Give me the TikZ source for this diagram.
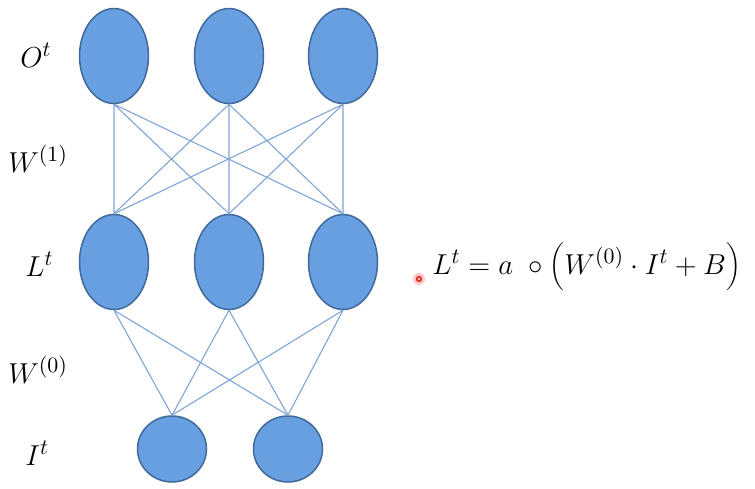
\documentclass[tikz,border=0pt]{standalone}
\usetikzlibrary{shapes.geometric}
\definecolor{NeuronFill}{HTML}{679FE0}
\definecolor{NeuronEdge}{HTML}{41699A}
\definecolor{LinkBlue}{HTML}{7FA5D6}
\definecolor{PointerRed}{HTML}{E8302A}

\begin{document}
\begin{tikzpicture}[x=0.5pt,y=-0.5pt,line cap=round,
  neuron/.style={ellipse,draw=NeuronEdge,fill=NeuronFill,line width=0.75pt,minimum width=34.5pt,minimum height=47.5pt,inner sep=0pt},
  link/.style={draw=LinkBlue,line width=0.55pt},
  tag/.style={anchor=base west,inner sep=0pt,font=\fontsize{15.5}{18}\selectfont}]
  \useasboundingbox (0,0) rectangle (755,488);
  \node[neuron] (o1) at (114,56) {}; \node[neuron] (o2) at (229,56) {}; \node[neuron] (o3) at (343,56) {};
  \node[neuron] (l1) at (114,262) {}; \node[neuron] (l2) at (229,262) {}; \node[neuron] (l3) at (343,262) {};
  \node[neuron,minimum height=33pt] (i1) at (172,449) {}; \node[neuron,minimum height=33pt] (i2) at (288,449) {};
  \draw[link] (o1.south)--(l1.north) (o1.south)--(l2.north) (o1.south)--(l3.north);
  \draw[link] (o2.south)--(l1.north) (o2.south)--(l2.north) (o2.south)--(l3.north);
  \draw[link] (o3.south)--(l1.north) (o3.south)--(l2.north) (o3.south)--(l3.north);
  \draw[link] (l1.south)--(i1.north) (l1.south)--(i2.north) (l2.south)--(i1.north);
  \draw[link] (l2.south)--(i2.north) (l3.south)--(i1.north) (l3.south)--(i2.north);
  \node[tag] (lo) at (20,67) {$O^t$}; \node[tag] (lw1) at (8,172) {$W^{(1)}$};
  \node[tag] (ll) at (25,276) {$L^t$}; \node[tag] (lw0) at (8,383) {$W^{(0)}$};
  \node[tag] (li) at (25,465) {$I^t$};
  \fill[PointerRed!25] (419,279) circle (3pt); \fill[PointerRed] (419,279) circle (1.6pt); \fill[white] (419,279) circle (0.6pt);
  \node[tag] (eq) at (432,274) {$L^t = a\ \circ\biggl(W^{(0)}\cdot I^t + B\biggr)$};
\end{tikzpicture}
\end{document}
